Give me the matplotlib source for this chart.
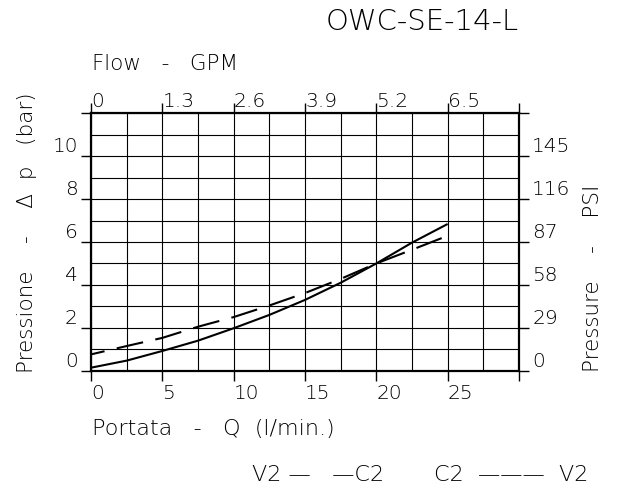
import matplotlib
matplotlib.use("Agg")
import matplotlib.pyplot as plt
from matplotlib import font_manager as fm
import numpy as np

# ---- data ----
flow_lpm = [0, 2.5, 5, 7.5, 10, 12.5, 15, 17.5, 20, 22.5, 25]
dp_c2_v2 = [0.14, 0.47, 0.92, 1.40, 1.98, 2.60, 3.30, 4.10, 5.00, 5.97, 6.84]   # solid
dp_v2_c2 = [0.76, 1.15, 1.53, 2.05, 2.50, 3.04, 3.62, 4.28, 5.00, 5.64, 6.29]   # dashed

x_ticks = [0, 5, 10, 15, 20, 25, 30]
x_labels = ["0", "5", "10", "15", "20", "25", ""]
gpm_labels = ["0", "1.3", "2.6", "3.9", "5.2", "6.5", ""]
y_ticks = [0, 2, 4, 6, 8, 10, 12]
bar_labels = ["0", "2", "4", "6", "8", "10", ""]
psi_labels = ["0", "29", "58", "87", "116", "145", ""]

title = "OWC-SE-14-L"
xlabel_bottom = "Portata   -   Q  (l/min.)"
xlabel_top = "Flow   -   GPM"
ylabel_left = "Pressione    -    Δ  p   (bar)"
ylabel_right = "Pressure    -    PSI"
legend_dashed = "V2 —   —C2"
legend_solid = "C2  ———  V2"

weight = "normal"
try:
    p = fm.findfont(fm.FontProperties(family="DejaVu Sans", weight=200),
                    fallback_to_default=False)
    if "ExtraLight" in p or "Light" in p:
        weight = 200
except Exception:
    pass
plt.rcParams["font.family"] = ["DejaVu Sans"]
plt.rcParams["font.weight"] = weight
plt.rcParams["text.color"] = "black"
plt.rcParams["lines.scale_dashes"] = False

W, H = 620, 495
fig = plt.figure(figsize=(W / 100, H / 100), dpi=100)
L, R, T, B = 91, 519, 113.3, 370.7
ax = fig.add_axes([L / W, 1 - B / H, (R - L) / W, (B - T) / H])

ax.set_xlim(0, 30)
ax.set_ylim(0, 12)

ax.plot(flow_lpm, dp_c2_v2, color="black", lw=1.5, solid_capstyle="butt", zorder=3)
ax.plot(flow_lpm, dp_v2_c2, color="black", lw=1.5, linestyle=(9.5, (19.5, 9)),
        dash_capstyle="butt", zorder=3)

# grid
ax.set_xticks(np.arange(2.5, 30, 5), minor=True)
ax.set_yticks(np.arange(1, 12, 2), minor=True)
ax.grid(True, which="both", color="black", lw=0.8)
ax.set_axisbelow(True)
for s in ax.spines.values():
    s.set_linewidth(1.6)

tick_fs = 14.5
ax.set_xticks(x_ticks)
ax.set_xticklabels(x_labels)
ax.set_yticks(y_ticks)
ax.set_yticklabels(bar_labels)
ax.tick_params(which="major", direction="out", length=7.5, width=1.0, pad=2,
               labelsize=tick_fs, colors="black")
ax.tick_params(which="minor", length=0)
for t in ax.get_xticklabels():
    t.set_ha("left")
for t in ax.get_yticklabels():
    t.set_va("bottom")

# top axis (GPM)
axt = ax.twiny()
axt.set_xlim(ax.get_xlim())
axt.set_xticks(x_ticks)
axt.set_xticklabels(gpm_labels)
axt.tick_params(direction="out", length=7.5, width=1.0, pad=-2.7, labelsize=tick_fs)
for t in axt.get_xticklabels():
    t.set_ha("left")
    t.set_va("baseline")
for s in axt.spines.values():
    s.set_visible(False)

# right axis (PSI)
axr = ax.twinx()
axr.set_ylim(ax.get_ylim())
axr.set_yticks(y_ticks)
axr.set_yticklabels(psi_labels)
axr.tick_params(direction="out", length=7.5, width=1.0, pad=2, labelsize=tick_fs)
for t in axr.get_yticklabels():
    t.set_va("bottom")
for s in axr.spines.values():
    s.set_visible(False)

fig.text(422 / W, 1 - 22 / H, title, ha="center", va="center", fontsize=21)
fig.text(92 / W, 1 - 64 / H, xlabel_top, ha="left", va="center", fontsize=15.5)
fig.text(92 / W, 1 - 429 / H, xlabel_bottom, ha="left", va="center", fontsize=16)
fig.text(27 / W, 1 - 233 / H, ylabel_left, ha="center", va="center", rotation=90, fontsize=15.5)
fig.text(593 / W, 1 - 278 / H, ylabel_right, ha="center", va="center", rotation=90, fontsize=15.5)
fig.text(252 / W, 1 - 475 / H, legend_dashed, ha="left", va="center", fontsize=16)
fig.text(588 / W, 1 - 475 / H, legend_solid, ha="right", va="center", fontsize=16)

fig.savefig("out.png", dpi=100, facecolor="white")
